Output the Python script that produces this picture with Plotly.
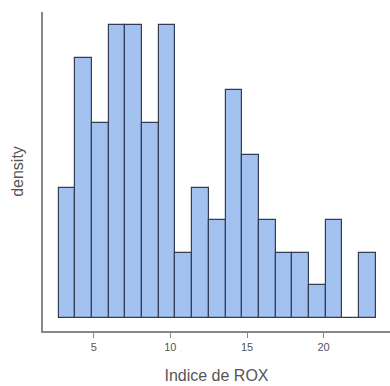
import numpy as np
import plotly.graph_objects as go

# Histogram of the ROX index: bin edges and counts per bin
bin_start = 2.717
bin_width = 1.088
counts = [4, 8, 6, 9, 9, 6, 9, 2, 4, 3, 7, 5, 3, 2, 2, 1, 3, 0, 2]
tick_vals = [5, 10, 15, 20]
tick_text = ["5", "10", "15", "20"]

n_total = sum(counts)
edges = bin_start + bin_width * np.arange(len(counts) + 1)
centers = (edges[:-1] + edges[1:]) / 2
density = [c / (n_total * bin_width) for c in counts]
d_unit = 1 / (n_total * bin_width)

fig = go.Figure(
    go.Bar(
        x=centers,
        y=density,
        width=bin_width,
        marker=dict(color="#a4c2f0", line=dict(color="#333e55", width=1.2)),
        hoverinfo="skip",
    )
)

fig.update_layout(
    width=390,
    height=386,
    margin=dict(l=43, r=0, t=12, b=55),
    paper_bgcolor="white",
    plot_bgcolor="white",
    showlegend=False,
    bargap=0,
    font=dict(family="Liberation Sans, Arial, sans-serif", color="#555555"),
)

fig.update_xaxes(
    range=[1.69, 24.33],
    tickvals=tick_vals,
    ticktext=tick_text,
    ticks="outside",
    ticklen=5,
    tickwidth=1,
    tickcolor="#888888",
    tickfont=dict(size=11, color="#555555"),
    showline=True,
    linecolor="#888888",
    linewidth=1.5,
    showgrid=False,
    zeroline=False,
    title=dict(text="Indice de ROX", font=dict(size=16, color="#555555"), standoff=18),
)

fig.update_yaxes(
    range=[-0.4 * d_unit, 9.4 * d_unit],
    showticklabels=False,
    ticks="",
    showline=True,
    linecolor="#888888",
    linewidth=1.5,
    showgrid=False,
    zeroline=False,
    title=dict(text="density", font=dict(size=16, color="#555555"), standoff=14),
)

fig.write_html("out.html")
